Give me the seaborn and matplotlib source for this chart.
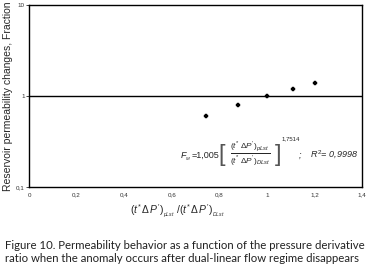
import numpy as np
import pandas as pd
import matplotlib
matplotlib.use("Agg")
import matplotlib.pyplot as plt
from matplotlib.ticker import FixedLocator, FixedFormatter
import seaborn as sns

# Data
ratio = [0.744, 0.880, 1.000, 1.108, 1.203]
perm_change = [0.597, 0.789, 0.99, 1.19, 1.39]
x_ticks = [0, 0.2, 0.4, 0.6, 0.8, 1.0, 1.2, 1.4]
x_tick_labels = ["0", "0,2", "0,4", "0,6", "0,8", "1", "1,2", "1,4"]
y_ticks = [0.1, 1, 10]
y_tick_labels = ["0,1", "1", "10"]

df = pd.DataFrame({"ratio": ratio, "perm": perm_change})

sns.set_theme(style="white")
plt.rcParams["font.family"] = ["Liberation Sans", "DejaVu Sans"]
plt.rcParams["mathtext.fontset"] = "custom"
plt.rcParams["mathtext.it"] = "Liberation Sans:italic"
plt.rcParams["mathtext.rm"] = "Liberation Sans"

W, H = 373, 275


def fx(px):
    return px / W


def fy(py):
    return 1 - py / H


fig = plt.figure(figsize=(3.73, 2.75), dpi=100)
ax = fig.add_axes([fx(29), fy(187), 333 / W, 182 / H])

sns.scatterplot(data=df, x="ratio", y="perm", ax=ax, marker="P", s=10,
                color="black", edgecolor="black", linewidth=0.3)
ax.axhline(1, color="black", lw=1.0)

ax.set_yscale("log")
ax.set_xlim(0, 1.4)
ax.set_ylim(0.1, 10)
ax.xaxis.set_major_locator(FixedLocator(x_ticks))
ax.xaxis.set_major_formatter(FixedFormatter(x_tick_labels))
ax.yaxis.set_major_locator(FixedLocator(y_ticks))
ax.yaxis.set_major_formatter(FixedFormatter(y_tick_labels))
ax.yaxis.set_minor_locator(FixedLocator([]))
ax.tick_params(axis="both", labelsize=4.5, labelcolor="#333333")
ax.tick_params(axis="y", length=2, width=0.6, left=True, pad=1)
ax.tick_params(axis="x", length=0, pad=4)
for sp in ax.spines.values():
    sp.set_color("black")
    sp.set_linewidth(1.0)

ax.set_xlabel("")
ax.set_ylabel("Reservoir permeability changes, Fraction", fontsize=7.5, labelpad=2)

# x axis title
fig.text(fx(177), fy(211),
         r"$(t\,^{*}\Delta\, P\,')_{_{pLst}}\ /(t\,^{*}\Delta\, P\,')_{_{DLst}}$",
         fontsize=7.5, ha="center", va="center")

# fitted equation, built from pieces
fig.text(fx(180), fy(158), r"$F_{_M}$", fontsize=6.5, ha="left", va="baseline")
fig.text(fx(192), fy(158), "=1,005", fontsize=6.5, ha="left", va="baseline")
fig.text(fx(222), fy(155), "[", fontsize=17, ha="center", va="center",
         color="#555555")
fig.text(fx(250), fy(154),
         r"$\frac{(t^{*}\ \Delta P')_{pLst}}{(t^{*}\ \Delta P')_{DLst}}$",
         fontsize=8.5, ha="center", va="center")
fig.text(fx(278), fy(155), "]", fontsize=17, ha="center", va="center",
         color="#555555")
fig.text(fx(282), fy(139), "1,7514", fontsize=4.3, ha="left", va="center")
fig.text(fx(299), fy(158), ";", fontsize=6.5, ha="left", va="baseline",
         style="italic")
fig.text(fx(310), fy(158), r"$R^2$= 0,9998", fontsize=6.5, ha="left",
         va="baseline", style="italic")

fig.text(fx(5), fy(240),
         "Figure 10. Permeability behavior as a function of the pressure derivative\n"
         "ratio when the anomaly occurs after dual-linear flow regime disappears",
         fontsize=8.2, ha="left", va="top", linespacing=1.2,
         family=["Lato", "DejaVu Sans"], color="#222222")

fig.savefig("out.png", dpi=100)
